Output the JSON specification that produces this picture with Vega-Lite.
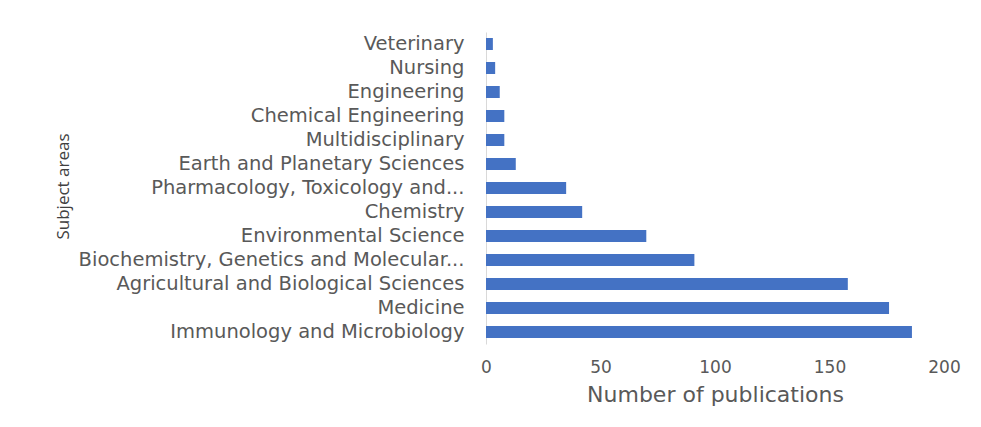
{
  "$schema": "https://vega.github.io/schema/vega-lite/v6.json",
  "width": 458,
  "height": 312,
  "autosize": {"type": "none"},
  "padding": {"left": 486, "top": 32, "right": 37, "bottom": 83},
  "background": "white",
  "config": {"view": {"stroke": null}},
  "data": {"values": [
    {"area": "Veterinary", "n": 3},
    {"area": "Nursing", "n": 4},
    {"area": "Engineering", "n": 6},
    {"area": "Chemical Engineering", "n": 8},
    {"area": "Multidisciplinary", "n": 8},
    {"area": "Earth and Planetary Sciences", "n": 13},
    {"area": "Pharmacology, Toxicology and...", "n": 35},
    {"area": "Chemistry", "n": 42},
    {"area": "Environmental Science", "n": 70},
    {"area": "Biochemistry, Genetics and Molecular...", "n": 91},
    {"area": "Agricultural and Biological Sciences", "n": 158},
    {"area": "Medicine", "n": 176},
    {"area": "Immunology and Microbiology", "n": 186}
  ]},
  "mark": {"type": "bar", "color": "#4472C4"},
  "encoding": {
    "y": {
      "field": "area", "type": "nominal", "sort": null,
      "scale": {"paddingInner": 0.5, "paddingOuter": 0.25},
      "axis": {
        "title": "Subject areas",
        "titleFont": "Open Sans", "titleFontSize": 17, "titleFontWeight": "normal", "titleColor": "#404040",
        "titleX": -423, "titleY": 154, "titleAngle": -90, "titleAlign": "center", "titleBaseline": "middle",
        "labelFont": "DejaVu Sans", "labelFontSize": 19.5, "labelColor": "#595959", "labelPadding": 22, "labelLimit": 500,
        "ticks": false, "domainColor": "#d9d9d9", "domainWidth": 1
      }
    },
    "x": {
      "field": "n", "type": "quantitative",
      "scale": {"domain": [0, 200], "nice": false},
      "axis": {
        "title": "Number of publications",
        "values": [0, 50, 100, 150, 200],
        "grid": false, "domain": false, "ticks": false, "labelFlush": false,
        "labelFont": "DejaVu Sans", "labelFontSize": 17, "labelColor": "#595959", "labelPadding": 15,
        "titleFont": "DejaVu Sans", "titleFontSize": 22, "titleFontWeight": "normal", "titleColor": "#595959", "titlePadding": 9
      }
    }
  }
}
